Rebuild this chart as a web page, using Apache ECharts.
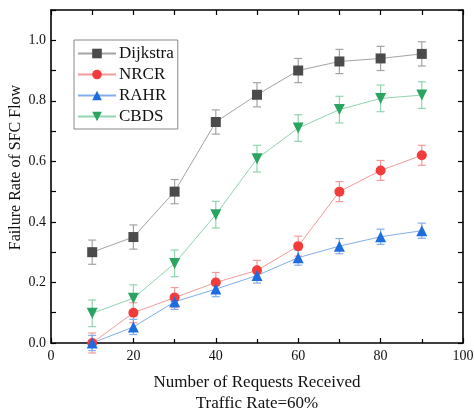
<!DOCTYPE html>
<html><head><meta charset="utf-8">
<script src="https://cdn.jsdelivr.net/npm/echarts@6/dist/echarts.min.js"></script>
<style>html,body{margin:0;padding:0;background:#fff}#c{width:474px;height:413px}</style>
</head><body><div id="c"></div>
<script>
var requests = [10, 20, 30, 40, 50, 60, 70, 80, 90];
var dijkstra = [0.30, 0.35, 0.50, 0.73, 0.82, 0.90, 0.93, 0.94, 0.955];
var nrcr     = [0.00, 0.10, 0.15, 0.20, 0.24, 0.32, 0.50, 0.57, 0.62];
var rahr     = [0.00, 0.053, 0.136, 0.178, 0.223, 0.282, 0.32, 0.351, 0.371];
var cbds     = [0.098, 0.148, 0.263, 0.424, 0.609, 0.71, 0.771, 0.808, 0.819];
var dijkstraErr = [0.04, 0.04, 0.04, 0.04, 0.04, 0.04, 0.04, 0.04, 0.04];
var nrcrErr     = [0.033, 0.033, 0.033, 0.033, 0.033, 0.033, 0.033, 0.033, 0.033];
var rahrErr     = [0.025, 0.025, 0.025, 0.025, 0.025, 0.025, 0.025, 0.025, 0.025];
var cbdsErr     = [0.044, 0.044, 0.044, 0.044, 0.044, 0.044, 0.044, 0.044, 0.044];
var xTicks = [0, 20, 40, 60, 80, 100];

var FONT = '"Liberation Serif", "Times New Roman", serif';
var defs = [
  {name: 'Dijkstra', vals: dijkstra, err: dijkstraErr, marker: '#4b4b4b', line: '#a3a3a3', symbol: 'rect', size: 10},
  {name: 'NRCR', vals: nrcr, err: nrcrErr, marker: '#f23c3c', line: '#f39a9a', symbol: 'circle', size: 10},
  {name: 'RAHR', vals: rahr, err: rahrErr, marker: '#1d6de0', line: '#82aee9', symbol: 'triangle', size: 11},
  {name: 'CBDS', vals: cbds, err: cbdsErr, marker: '#2aa560', line: '#90d5ae', symbol: 'path://M0,0 L10,0 L5,9 Z', size: 11}
];

var series = [];
defs.forEach(function (d) {
  series.push({
    name: d.name, type: 'line', z: 3,
    data: requests.map(function (x, i) { return [x, d.vals[i]]; }),
    symbol: d.symbol, symbolSize: d.size,
    itemStyle: {color: d.marker},
    lineStyle: {color: d.line, width: 1},
    emphasis: {disabled: true}
  });
});
defs.forEach(function (d) {
  series.push({
    name: d.name + ' err', type: 'custom', z: 2, silent: true,
    data: requests.map(function (x, i) { return [x, d.vals[i] - d.err[i], d.vals[i] + d.err[i]]; }),
    renderItem: function (params, api) {
      var lo = api.coord([api.value(0), api.value(1)]);
      var hi = api.coord([api.value(0), api.value(2)]);
      var w = 4;
      var st = {stroke: d.line, lineWidth: 1.2, fill: null};
      return {type: 'group', children: [
        {type: 'line', shape: {x1: hi[0], y1: hi[1], x2: lo[0], y2: lo[1]}, style: st},
        {type: 'line', shape: {x1: hi[0] - w, y1: hi[1], x2: hi[0] + w, y2: hi[1]}, style: st},
        {type: 'line', shape: {x1: lo[0] - w, y1: lo[1], x2: lo[0] + w, y2: lo[1]}, style: st}
      ]};
    },
    encode: {x: 0, y: [1, 2]}
  });
});

var axisLine = {show: true, onZero: false, lineStyle: {color: '#000', width: 1.6}};
var tick = {show: true, inside: true, length: 5, lineStyle: {color: '#000', width: 1.2}};
var chart = echarts.init(document.getElementById('c'));
chart.setOption({
  animation: false,
  backgroundColor: '#fff',
  grid: {left: 51, right: 11, top: 10, bottom: 70, containLabel: false, outerBoundsMode: 'none'},
  legend: {
    data: defs.map(function (d) { return d.name; }),
    orient: 'vertical', left: 74, top: 40,
    itemWidth: 38, itemHeight: 12, itemGap: 4,
    padding: [5, 4, 4, 3],
    borderColor: '#888', borderWidth: 1, backgroundColor: '#fff',
    textStyle: {fontFamily: FONT, fontSize: 17, color: '#111', padding: [0, 0, 0, -2]}
  },
  xAxis: [{
    type: 'value', min: 0, max: 100, interval: 20,
    name: 'Number of Requests Received\nTraffic Rate=60%',
    nameLocation: 'middle', nameGap: 29, nameMoveOverlap: false,
    nameTextStyle: {fontFamily: FONT, fontSize: 17, color: '#111', lineHeight: 21},
    axisLine: axisLine,
    axisTick: tick,
    minorTick: {show: true, splitNumber: 2, length: 4, lineStyle: {color: '#000', width: 1.2}},
    axisLabel: {fontFamily: FONT, fontSize: 14, color: '#111', margin: 6,
      formatter: function (v) { return xTicks.indexOf(v) >= 0 ? String(v) : ''; }},
    splitLine: {show: false}
  }, {
    type: 'value', min: 0, max: 100, interval: 10, position: 'top',
    axisLine: axisLine, axisTick: tick,
    axisLabel: {show: false}, splitLine: {show: false}
  }],
  yAxis: [{
    type: 'value', min: 0, max: 1.1, interval: 0.1,
    name: 'Failure Rate of SFC Flow',
    nameLocation: 'middle', nameGap: 27, nameMoveOverlap: false,
    nameTextStyle: {fontFamily: FONT, fontSize: 16, color: '#111', padding: [0, 0, 0, 18]},
    axisLine: axisLine, axisTick: tick,
    axisLabel: {fontFamily: FONT, fontSize: 14, color: '#111', margin: 5,
      formatter: function (v) {
        var k = Math.round(v * 10);
        return (k % 2 === 0 && k <= 10) ? (k / 10).toFixed(1) : '';
      }},
    splitLine: {show: false}
  }, {
    type: 'value', min: 0, max: 1.1, interval: 0.1, position: 'right',
    axisLine: axisLine, axisTick: tick,
    axisLabel: {show: false}, splitLine: {show: false}
  }],
  series: series
});
</script>
</body></html>
